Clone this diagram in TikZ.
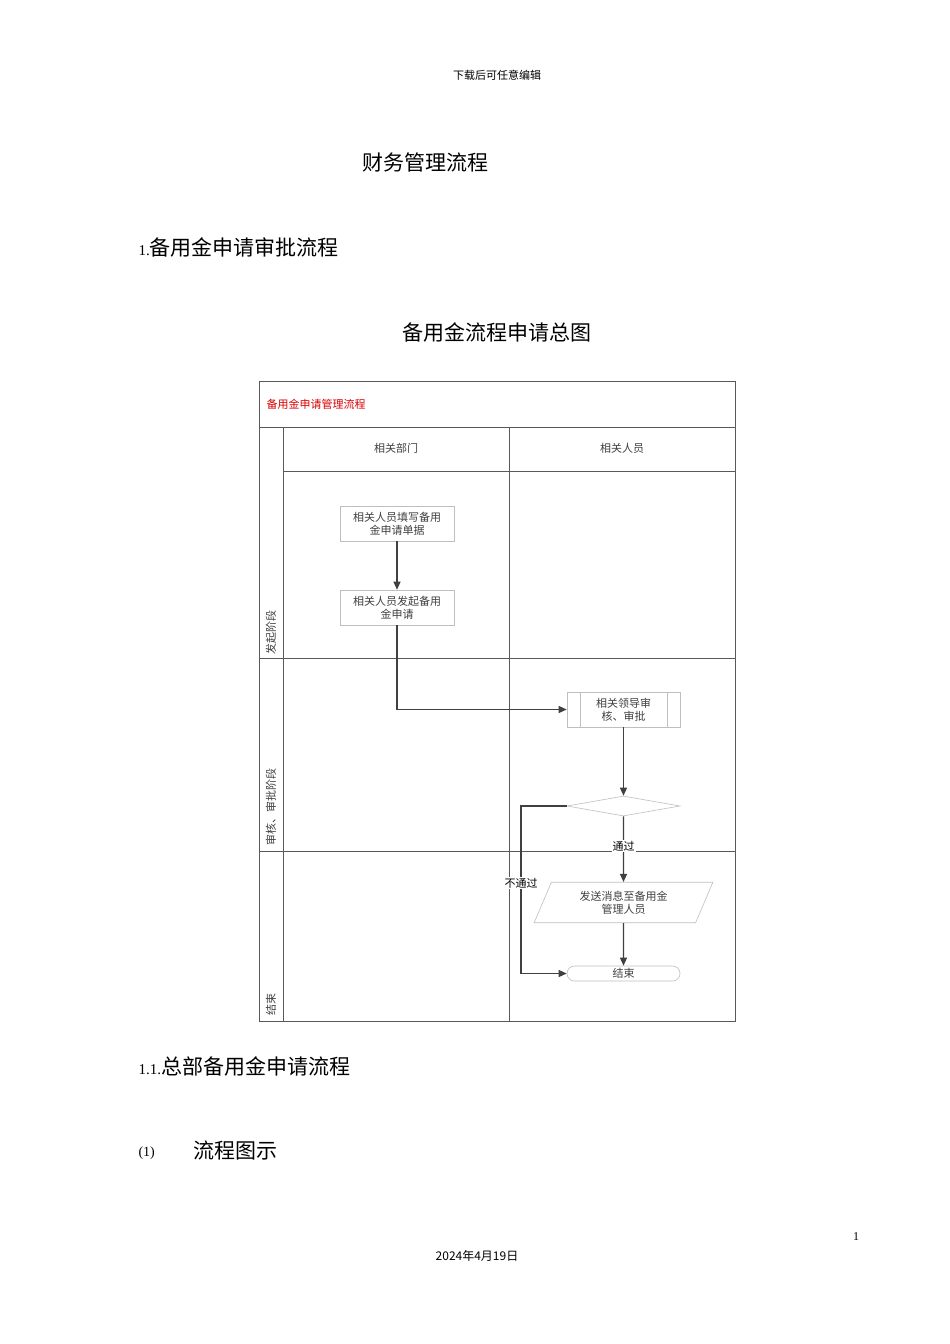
\documentclass[tikz,border=0pt]{standalone}
\usepackage{fontspec}
\setmainfont{Liberation Serif}
\newfontfamily\cjk{Noto Sans CJK SC}
\newfontfamily\cjkl{Noto Sans CJK SC}[FakeBold=0]
\usetikzlibrary{shapes.geometric,arrows.meta}
\begin{document}
\begin{tikzpicture}[x=1pt,y=-1pt,
  grid/.style={draw=black!65,line width=0.9pt},
  flow/.style={draw=black!75,line width=1.2pt,-{Triangle[length=8pt,width=7pt]}},
  boxs/.style={draw=black!25,fill=white,line width=0.6pt},
  lbl/.style={font=\cjk\fontsize{11}{13}\selectfont,text=black!75,align=center}]
\useasboundingbox[fill=white] (0,0) rectangle (950,1344);
% page texts
\node[font=\cjk\fontsize{11}{13}\selectfont] (hdr) at (497,75) {下载后可任意编辑};
\node[font=\cjk\fontsize{21}{24}\selectfont] (t0) at (425,162) {财务管理流程};
\node[anchor=west,font=\cjk\fontsize{21}{24}\selectfont] (t1) at (135,247) {{\rmfamily\fontsize{15}{18}\selectfont 1.}备用金申请审批流程};
\node[font=\cjk\fontsize{21}{24}\selectfont] (t2) at (497,332) {备用金流程申请总图};
\node[anchor=west,font=\cjk\fontsize{21}{24}\selectfont] (t3) at (135,1066) {{\rmfamily\fontsize{15}{18}\selectfont 1.1.}总部备用金申请流程};
\node[anchor=west,font=\rmfamily\fontsize{14}{16}\selectfont] (t4) at (135,1153) {(1)};
\node[anchor=west,font=\cjk\fontsize{21}{24}\selectfont] (t5) at (190,1151) {流程图示};
\node[font=\rmfamily\fontsize{12}{14}\selectfont] (pg) at (856,1237) {1};
\node[font=\cjk\fontsize{12}{14}\selectfont] (dt) at (477,1256) {2024年4月19日};
% swimlane grid
\draw[grid] (259,381) rectangle (735,1021);
\draw[grid] (259,427) -- (735,427);
\draw[grid] (283,427) -- (283,1021);
\draw[grid] (509,427) -- (509,1021);
\draw[grid] (283,471) -- (735,471);
\draw[grid] (259,658) -- (735,658);
\draw[grid] (259,851) -- (735,851);
\node[anchor=west,font=\cjk\fontsize{11}{13}\selectfont,text=red!85!black] (ttl) at (263,404) {备用金申请管理流程};
\node[lbl] (c1) at (396,448) {相关部门};
\node[lbl] (c2) at (622,448) {相关人员};
\node[lbl,rotate=90,anchor=west] (s1) at (271,658) {发起阶段};
\node[lbl,rotate=90,anchor=west] (s2) at (271,849) {审核、审批阶段};
\node[lbl,rotate=90,anchor=west] (s3) at (271,1019) {结束};
% nodes
\node[boxs,lbl,minimum width=114pt,minimum height=35pt,inner sep=1pt] (b1) at (397,523.5) {相关人员填写备用\\金申请单据};
\node[boxs,lbl,minimum width=114pt,minimum height=35pt,inner sep=1pt] (b2) at (397,607.5) {相关人员发起备用\\金申请};
\node[boxs,lbl,minimum width=113pt,minimum height=35pt,inner sep=1pt] (b3) at (623.5,709.5) {相关领导审\\核、审批};
\draw[black!25,line width=0.6pt] (580,692) -- (580,727) (667,692) -- (667,727);
\node[boxs,diamond,aspect=5.6,minimum width=113pt,minimum height=20pt,inner sep=0pt] (d) at (623.5,806) {};
\node[boxs,trapezium,trapezium left angle=67,trapezium right angle=113,minimum width=179pt,minimum height=35pt,inner sep=1pt,lbl] (p) at (623.5,902.5) {发送消息至备用金\\管理人员};
\node[boxs,rounded corners=7.5pt,minimum width=113pt,minimum height=15pt,inner sep=0pt,lbl] (e) at (623.5,973.5) {结束};
% connectors
\draw[flow] (b1) -- (b2);
\draw[flow] (b2.south) |- (b3.west);
\draw[flow] (b3) -- (d.north);
\draw[flow] (d.south) -- node[pos=0.45,fill=white,inner sep=1pt,font=\cjk\fontsize{11}{13}\selectfont] (ok) {通过} (p.north);
\draw[flow] (p.south) -- (e.north);
\coordinate (lft) at (521,806);
\draw[flow] (d.west) -- (lft) |- node[pos=0.23,fill=white,inner sep=1pt,font=\cjk\fontsize{11}{13}\selectfont] (no) {不通过} (e.west);
\end{tikzpicture}
\end{document}
